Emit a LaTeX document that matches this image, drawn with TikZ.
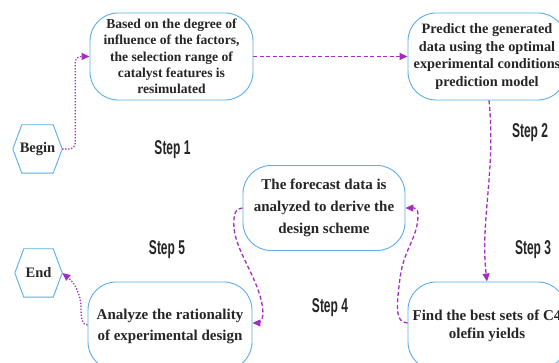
\documentclass[tikz,border=0pt]{standalone}
\usepackage{fontspec}
\setmainfont{Liberation Serif}
\setsansfont{Liberation Sans}
\usetikzlibrary{arrows.meta}
\definecolor{bordblue}{HTML}{5AAEEB}
\definecolor{flowpurple}{HTML}{A22DC0}
\definecolor{txt}{HTML}{262626}
\tikzset{
 box/.style={draw=bordblue, line width=0.9pt, rounded corners=28pt, align=center, text=txt, inner sep=0pt},
 hexcore/.style={rectangle, minimum width=49pt, minimum height=48pt, inner sep=0pt, text=txt, font=\fontsize{14.5}{16}\selectfont\bfseries},
 hexline/.style={draw=bordblue, line width=0.9pt, line join=miter},
 steplbl/.style={text=txt, font=\sffamily\bfseries\fontsize{20}{22}\selectfont, inner sep=0pt},
 flowdash/.style={draw=flowpurple, line width=1.3pt, dash pattern=on 4pt off 2.5pt, -{Triangle[length=8pt,width=7pt]}},
 flowdot/.style={draw=flowpurple, line width=1.3pt, dash pattern=on 1.3pt off 1.7pt, -{Triangle[length=8pt,width=7pt]}},
}
\newcommand{\hexframe}[1]{\draw[hexline] (#1.west) -- ([xshift=9pt]#1.north west) -- ([xshift=-9pt]#1.north east) -- (#1.east) -- ([xshift=-9pt]#1.south east) -- ([xshift=9pt]#1.south west) -- cycle;}
\begin{document}
\begin{tikzpicture}[x=1pt,y=1pt]
\useasboundingbox (0,0) rectangle (559,363);
\clip (0,0) rectangle (559,363);
\fill[white] (0,0) rectangle (559,363);
% nodes
\node[hexcore] (begin) at (37.5,214) {Begin};
\hexframe{begin}
\node[hexcore, minimum width=47pt] (end) at (38.5,90) {End};
\hexframe{end}
\node[box, minimum width=163pt, minimum height=87pt, font=\fontsize{13.6}{16.3}\selectfont\bfseries] (s1) at (171.5,306.5) {Based on the degree of\\influence of the factors,\\the selection range of\\catalyst features is\\resimulated};
\node[box, minimum width=158pt, minimum height=87pt, font=\fontsize{14.3}{17.7}\selectfont\bfseries] (s2) at (487,306.5) {Predict the generated\\data using the optimal\\experimental conditions\\prediction model};
\node[box, minimum width=162pt, minimum height=85pt, font=\fontsize{15}{22}\selectfont\bfseries] (s3) at (324,155) {The forecast data is\\analyzed to derive the\\design scheme};
\node[box, minimum width=164pt, minimum height=88pt, font=\fontsize{15}{21}\selectfont\bfseries] (s4) at (170,37) {Analyze the rationality\\of experimental design};
\node[box, minimum width=158pt, minimum height=88pt, font=\fontsize{15}{18}\selectfont\bfseries] (s5) at (487,37) {Find the best sets of C4\\olefin yields};
% step labels
\node[steplbl] (st1) at (172.5,213) {\scalebox{0.6}[1]{Step 1}};
\node[steplbl] (st2) at (530,230) {\scalebox{0.6}[1]{Step 2}};
\node[steplbl] (st3) at (533,113) {\scalebox{0.6}[1]{Step 3}};
\node[steplbl] (st4) at (330,55) {\scalebox{0.6}[1]{Step 4}};
\node[steplbl] (st5) at (167,113) {\scalebox{0.6}[1]{Step 5}};
% waypoints
\coordinate (w4a) at (400,85);
\coordinate (w4b) at (418,148);
\coordinate (w5a) at (234,135);
\coordinate (w5b) at (263,50);
\coordinate (w6a) at (81,55);
% connectors
\draw[flowdot, rounded corners=6pt] (begin.east) -- ++(13,0) |- (s1.west);
\draw[flowdash] (s1.east) -- (s2.west);
\draw[flowdash] ([xshift=2pt]s2.south) .. controls +(7,-70) and +(-7,60) .. (s5.north);
\draw[flowdash] ([yshift=3pt]s5.west) .. controls (394,40) and (397,60) .. (w4a) .. controls (404,115) and (418,125) .. (w4b) .. controls (418,155) and (414,155) .. (s3.east);
\draw[flowdash] (s3.west) .. controls (236,155) and (233,150) .. (w5a) .. controls (236,110) and (262,80) .. (w5b) .. controls (263,42) and (258,40) .. ([yshift=3pt]s4.east);
\draw[flowdot] ([yshift=1pt]s4.west) .. controls (82,38) and (81,45) .. (w6a) .. controls (81,68) and (75,80) .. (end.east);
\end{tikzpicture}
\end{document}
